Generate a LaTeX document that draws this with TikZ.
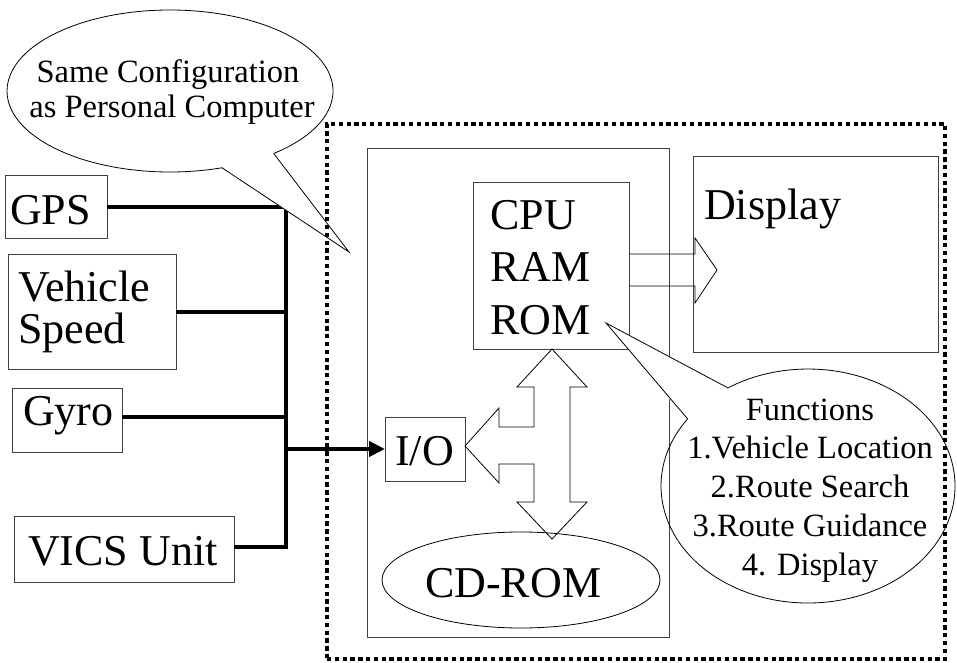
\documentclass[tikz,border=0pt]{standalone}
\usepackage{fontspec}
\setmainfont{Liberation Serif}
\usetikzlibrary{shapes.geometric,arrows.meta}
\tikzset{
  box/.style={draw=black!75, line width=0.9pt, rectangle, inner sep=0pt, outer sep=0pt, anchor=south west},
  big/.style={font=\fontsize{44}{48}\selectfont, inner sep=0pt, anchor=base west},
  small/.style={font=\fontsize{32.5}{36}\selectfont, inner sep=0pt, anchor=base},
  bus/.style={line width=4pt},
  thinline/.style={draw=black, line width=0.8pt, line join=miter},
}
\begin{document}
\begin{tikzpicture}[x=1pt,y=1pt]
\useasboundingbox (0,0) rectangle (957,662);

% boxes
\node[box, minimum width=102pt, minimum height=63pt]  (gps)  at (5,424) {};
\node[box, minimum width=168pt, minimum height=115pt] (vs)   at (8,293) {};
\node[box, minimum width=110pt, minimum height=64pt]  (gyro) at (12,210) {};
\node[box, minimum width=220pt, minimum height=66pt]  (vics) at (14,80) {};
\node[box, minimum width=302pt, minimum height=489pt] (comp) at (367,25) {};
\node[box, minimum width=156pt, minimum height=167pt] (cpu)  at (473,313) {};
\node[box, minimum width=245pt, minimum height=196pt] (disp) at (693,310) {};
\node[box, minimum width=80pt,  minimum height=64pt]  (io)   at (385,181) {};
\node[draw=black, line width=0.8pt, ellipse, inner sep=0pt, minimum width=278pt, minimum height=96pt] (cd) at (521,82) {};

% bus
\coordinate (bt)  at (286,455);
\coordinate (bb)  at (286,115);
\coordinate (bvs) at (286,350);
\coordinate (bgy) at (286,245);
\coordinate (bio) at (286,213);
\draw[bus] (gps.east |- bt) -- (bt) -- (bb) -- (vics.east |- bb);
\draw[bus] (vs.east |- bvs) -- (bvs);
\draw[bus] (gyro.east |- bgy) -- (bgy);
\draw[bus, -{Triangle[length=16pt,width=15pt]}] (bio) -- (io.west |- bio);

% block arrow CPU -> Display
\draw[thinline] (629,408) -- (695,408) -- (695,424) -- (717,392) -- (695,359) -- (695,376) -- (629,376);

% double arrow CPU <-> CD-ROM with branch to I/O
\draw[thinline] (552,313) -- (587,275) -- (570,275) -- (570,160) -- (587,160) -- (552,123)
  -- (517,160) -- (534,160) -- (534,198) -- (499,198) -- (499,179) -- (465,216)
  -- (499,254) -- (499,235) -- (534,235) -- (534,275) -- (517,275) -- cycle;

% callout: Same Configuration
\fill[white] (209.5,502.3) -- (349,410) -- (266,520) -- cycle;
\draw[thinline] (273.7,508.5) arc[start angle=-50.5, end angle=288.6, x radius=163pt, y radius=81pt];
\draw[thinline] (273.7,508.5) -- (349,410) -- (222,494.2);

% callout: Functions
\fill[white] (740.3,268) -- (606,339) -- (695.6,231.5) -- cycle;
\draw[thinline] (687.6,243.1) arc[start angle=145, end angle=483, x radius=147pt, y radius=117pt];
\draw[thinline] (727.9,274.1) -- (606,339) -- (687.6,243.1);

% dotted system boundary
\node[draw=black, line width=4pt, dash pattern=on 4.3pt off 3.5pt, rectangle, inner sep=0pt, outer sep=0pt,
      anchor=south west, minimum width=618pt, minimum height=535pt] (sys) at (327,3) {};

% texts
\node[big] (tgps)  at (10,437)  {GPS};
\node[big] (tvs1)  at (18,360)  {Vehicle};
\node[big] (tvs2)  at (18,319)  {Speed};
\node[big] (tgyro) at (23,237)  {Gyro};
\node[big] (tvics) at (28,97)   {VICS Unit};
\node[big] (tcpu)  at (490,432) {CPU};
\node[big] (tram)  at (490,380) {RAM};
\node[big] (trom)  at (490,328) {ROM};
\node[big] (tdisp) at (704,442) {Display};
\node[big] (tio)   at (395,197) {I/O};
\node[big] (tcd)   at (425,65)  {CD-ROM};

\node[small] (s1) at (168,579) {Same Configuration};
\node[small] (s2) at (172,544) {as Personal Computer};

\node[small] (f0) at (810,242)    {Functions};
\node[small] (f1) at (810,203.25) {1.Vehicle Location};
\node[small] (f2) at (810,164.5)  {2.Route Search};
\node[small] (f3) at (810,125.75) {3.Route Guidance};
\node[small] (f4) at (810,87)     {4. Display};
\end{tikzpicture}
\end{document}
